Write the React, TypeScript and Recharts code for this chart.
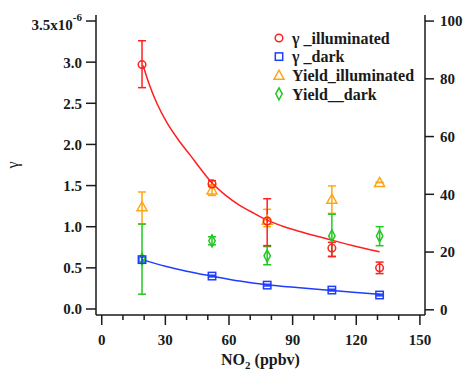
import React from "react";
import {
  ComposedChart,
  Scatter,
  Line,
  XAxis,
  YAxis,
  ErrorBar,
  Legend,
} from "recharts";

const FONT = '"Liberation Serif", "Times New Roman", serif';
const INK = "#1a1a1a";

const RED = "#ff1f1f";
const BLUE = "#1f3dff";
const ORANGE = "#ffa514";
const GREEN = "#22c822";

// NO2 mixing ratio (ppbv)
const NO2 = [19, 52, 78, 108.5, 131];

// gamma values in units of 1e-6
const gammaIllum = [2.97, 1.52, 1.07, 0.74, 0.5];
const gammaIllumLow = [2.69, 1.49, 0.77, 0.64, 0.43];
const gammaIllumHigh = [3.26, 1.56, 1.34, 0.81, 0.57];

const gammaDark = [0.6, 0.4, 0.29, 0.23, 0.17];
const gammaDarkLow = [0.57, 0.39, 0.28, 0.22, 0.16];
const gammaDarkHigh = [0.63, 0.41, 0.3, 0.24, 0.18];

// yields (%) on the right axis
const yieldIllum = [35.7, 41.5, 31, 38.3, 44.1];
const yieldIllumLow = [29.7, 39.6, 28.8, 33.4, 44.1];
const yieldIllumHigh = [40.8, 43.3, 34.8, 42.9, 44.1];

const yieldDark = [17.5, 23.9, 18.7, 25.6, 25.6];
const yieldDarkLow = [5.4, 22.5, 15.6, 18.4, 22.2];
const yieldDarkHigh = [29.7, 25.3, 21.9, 33.1, 28.8];

// fitted curves
const redFitX = [19.5, 22, 26, 30.6, 36, 41.7, 47, 52, 58, 65, 72, 78, 86, 95, 108, 120, 131];
const redFitY = [2.96, 2.76, 2.5, 2.27, 2.06, 1.87, 1.69, 1.53, 1.39, 1.26, 1.16, 1.08, 1.0, 0.93, 0.84, 0.76, 0.695];

const blueFitX = [19, 30, 40, 52, 65, 78, 92, 108, 120, 131];
const blueFitY = [0.6, 0.52, 0.46, 0.4, 0.34, 0.295, 0.26, 0.225, 0.2, 0.18];

const xTicks = [0, 10, 20, 30, 40, 50, 60, 70, 80, 90, 100, 110, 120, 130, 140, 150];
const leftTicks = [0, 0.5, 1, 1.5, 2, 2.5, 3, 3.5];
const rightTicks = [0, 20, 40, 60, 80, 100];

const points = (ys: number[], lo: number[], hi: number[]) =>
  NO2.map((x, i) => ({ x, y: ys[i], err: [ys[i] - lo[i], hi[i] - ys[i]] }));

const curve = (xs: number[], ys: number[]) => xs.map((x, i) => ({ x, y: ys[i] }));

const LEGEND = [
  { label: "γ _illuminated", color: RED, shape: "circle" },
  { label: "γ _dark", color: BLUE, shape: "square" },
  { label: "Yield_illuminated", color: ORANGE, shape: "triangle" },
  { label: "Yield__dark", color: GREEN, shape: "diamond" },
];

function Marker({ shape, cx, cy, color }: { shape: string; cx: number; cy: number; color: string }) {
  const common = { fill: "none", stroke: color, strokeWidth: 1.5 };
  if (shape === "circle") return <circle cx={cx} cy={cy} r={3.8} {...common} />;
  if (shape === "square") return <rect x={cx - 3.7} y={cy - 3.7} width={7.4} height={7.4} {...common} />;
  if (shape === "triangle")
    return <path d={`M${cx},${cy - 5} L${cx + 5},${cy + 4} L${cx - 5},${cy + 4} Z`} {...common} />;
  return <path d={`M${cx},${cy - 6} L${cx + 3.2},${cy} L${cx},${cy + 6} L${cx - 3.2},${cy} Z`} {...common} />;
}

const shapeFor = (shape: string, color: string) => (p: any) =>
  <Marker shape={shape} cx={p.cx} cy={p.cy} color={color} />;

function XTick({ x, y, payload }: any) {
  const major = payload.value % 30 === 0;
  return (
    <g>
      <line x1={x} y1={y} x2={x} y2={y + (major ? 10 : 5)} stroke={INK} strokeWidth={1.5} />
      {major && (
        <text x={x} y={y + 30} textAnchor="middle" fontFamily={FONT} fontWeight="bold" fontSize={15} fill={INK}>
          {payload.value}
        </text>
      )}
    </g>
  );
}

function LeftTick({ x, y, payload }: any) {
  const v = payload.value;
  if (v === 3.5) {
    return (
      <text x={x} y={y + 9} textAnchor="end" fontFamily={FONT} fontWeight="bold" fontSize={15} fill={INK}>
        3.5x10
        <tspan fontSize={11} dy={-9}>-6</tspan>
      </text>
    );
  }
  return (
    <text x={x} y={y} dy="0.36em" textAnchor="end" fontFamily={FONT} fontWeight="bold" fontSize={15} fill={INK}>
      {v.toFixed(1)}
    </text>
  );
}

function LegendBox() {
  return (
    <svg width={200} height={90}>
      {LEGEND.map((l, i) => {
        const cy = 10 + i * 18.6;
        return (
          <g key={l.label}>
            <Marker shape={l.shape} cx={14} cy={cy} color={l.color} />
            <text x={27} y={cy} dy="0.36em" fontFamily={FONT} fontWeight="bold" fontSize={16} fill={INK}>
              {l.label}
            </text>
          </g>
        );
      })}
    </svg>
  );
}

export default function App() {
  return (
    <div style={{ position: "absolute", left: 0, top: 0, width: 466, height: 371, background: "#fff" }}>
      <ComposedChart width={466} height={371} margin={{ top: 15, right: 0, bottom: 0, left: 0 }}>
        <XAxis
          xAxisId="top"
          orientation="top"
          type="number"
          dataKey="x"
          domain={[-2.7, 152.4]}
          allowDataOverflow
          height={0}
          tick={false}
          tickLine={false}
          axisLine={{ stroke: INK, strokeWidth: 1.5 }}
        />
        <XAxis
          type="number"
          dataKey="x"
          domain={[-2.7, 152.4]}
          allowDataOverflow
          ticks={xTicks}
          interval={0}
          height={56}
          tickSize={0}
          tickMargin={0}
          tickLine={false}
          tick={<XTick />}
          axisLine={{ stroke: INK, strokeWidth: 1.5 }}
          label={{
            content: () => (
              <text x={260.5} y={365} textAnchor="middle" fontFamily={FONT} fontWeight="bold" fontSize={16} fill={INK}>
                NO
                <tspan fontSize={11} dy={4}>2</tspan>
                <tspan dy={-4}> (ppbv)</tspan>
              </text>
            ),
          }}
        />
        <YAxis
          yAxisId="left"
          type="number"
          dataKey="y"
          width={96}
          domain={[-0.073, 3.573]}
          allowDataOverflow
          ticks={leftTicks}
          interval={0}
          tickSize={10}
          tickMargin={4}
          tickLine={{ stroke: INK, strokeWidth: 1.5 }}
          tick={<LeftTick />}
          axisLine={{ stroke: INK, strokeWidth: 1.5 }}
          label={{
            content: () => (
              <text x={18} y={165} transform="rotate(-90 18 165)" textAnchor="middle" fontFamily={FONT} fontSize={16} fill={INK}>
                γ
              </text>
            ),
          }}
        />
        <YAxis
          yAxisId="right"
          orientation="right"
          type="number"
          dataKey="y"
          width={41}
          domain={[-1.8, 102.1]}
          allowDataOverflow
          ticks={rightTicks}
          interval={0}
          tickSize={9}
          tickMargin={6}
          tickLine={{ stroke: INK, strokeWidth: 1.5 }}
          tick={{ fill: INK, fontSize: 15, fontWeight: "bold", fontFamily: FONT }}
          axisLine={{ stroke: INK, strokeWidth: 1.5 }}
        />
        <Legend
          layout="vertical"
          align="center"
          verticalAlign="middle"
          content={() => <LegendBox />}
          wrapperStyle={{ position: "absolute", left: 265, top: 28, width: 200, height: 90 }}
        />
        <Scatter
          yAxisId="right"
          data={points(yieldIllum, yieldIllumLow, yieldIllumHigh)}
          shape={shapeFor("triangle", ORANGE)}
          isAnimationActive={false}
        >
          <ErrorBar dataKey="err" direction="y" width={4} stroke={ORANGE} strokeWidth={1.5} />
        </Scatter>
        <Scatter
          yAxisId="right"
          data={points(yieldDark, yieldDarkLow, yieldDarkHigh)}
          shape={shapeFor("diamond", GREEN)}
          isAnimationActive={false}
        >
          <ErrorBar dataKey="err" direction="y" width={4} stroke={GREEN} strokeWidth={1.5} />
        </Scatter>
        <Line
          yAxisId="left"
          data={curve(blueFitX, blueFitY)}
          dataKey="y"
          type="monotone"
          stroke={BLUE}
          strokeWidth={1.5}
          dot={false}
          isAnimationActive={false}
        />
        <Line
          yAxisId="left"
          data={curve(redFitX, redFitY)}
          dataKey="y"
          type="monotone"
          stroke={RED}
          strokeWidth={1.5}
          dot={false}
          isAnimationActive={false}
        />
        <Scatter
          yAxisId="left"
          data={points(gammaDark, gammaDarkLow, gammaDarkHigh)}
          shape={shapeFor("square", BLUE)}
          isAnimationActive={false}
        >
          <ErrorBar dataKey="err" direction="y" width={4} stroke={BLUE} strokeWidth={1.5} />
        </Scatter>
        <Scatter
          yAxisId="left"
          data={points(gammaIllum, gammaIllumLow, gammaIllumHigh)}
          shape={shapeFor("circle", RED)}
          isAnimationActive={false}
        >
          <ErrorBar dataKey="err" direction="y" width={4} stroke={RED} strokeWidth={1.5} />
        </Scatter>
      </ComposedChart>
    </div>
  );
}
